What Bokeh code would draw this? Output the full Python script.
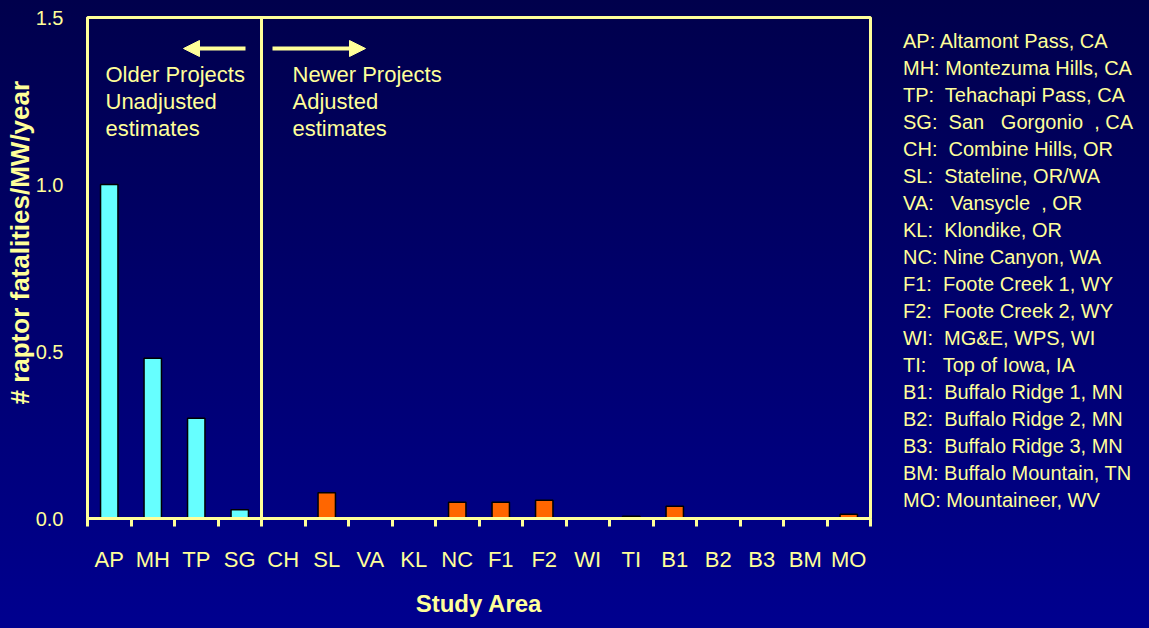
from bokeh.plotting import figure
from bokeh.models import (Range1d, LinearAxis, FixedTicker, Label, Span, Legend, LegendItem,
                          Arrow, NormalHead, ColumnDataSource, NumeralTickFormatter)
from bokeh.transform import factor_cmap
from bokeh.embed import file_html
from bokeh.resources import INLINE

# ---------------- data ----------------
sites = ["AP", "MH", "TP", "SG", "CH", "SL", "VA", "KL", "NC",
         "F1", "F2", "WI", "TI", "B1", "B2", "B3", "BM", "MO"]
fatalities = [1.0, 0.48, 0.30, 0.026, 0.0, 0.077, 0.0, 0.0, 0.049,
              0.049, 0.055, 0.0, 0.007, 0.037, 0.0, 0.0, 0.0, 0.013]
project_age = ["Older"] * 4 + ["Newer"] * 14
y_ticks = [0.0, 0.5, 1.0, 1.5]
legend_lines = [
    "AP: Altamont Pass, CA",
    "MH: Montezuma Hills, CA",
    "TP:  Tehachapi Pass, CA",
    "SG:  San   Gorgonio  , CA",
    "CH:  Combine Hills, OR",
    "SL:  Stateline, OR/WA",
    "VA:   Vansycle  , OR",
    "KL:  Klondike, OR",
    "NC: Nine Canyon, WA",
    "F1:  Foote Creek 1, WY",
    "F2:  Foote Creek 2, WY",
    "WI:  MG&E, WPS, WI",
    "TI:   Top of Iowa, IA",
    "B1:  Buffalo Ridge 1, MN",
    "B2:  Buffalo Ridge 2, MN",
    "B3:  Buffalo Ridge 3, MN",
    "BM: Buffalo Mountain, TN",
    "MO: Mountaineer, WV",
]
older_lines = ["Older Projects", "Unadjusted", "estimates"]
newer_lines = ["Newer Projects", "Adjusted", "estimates"]

# ---------------- style ----------------
YEL = "#FFFF99"
CYAN = "#66FFFF"
ORANGE = "#FF6600"
FONT = "Liberation Sans"

FL, FR, FT, FB = 87, 870, 17, 518  # frame box in page pixels

p = figure(frame_width=FR - FL, frame_height=FB - FT,
           x_range=sites, y_range=Range1d(0, 1.5),
           output_backend="svg", toolbar_location=None, x_axis_location=None,
           min_border_left=FL, min_border_right=10,
           min_border_top=FT, min_border_bottom=100)
p.background_fill_alpha = 0
p.border_fill_alpha = 0
p.outline_line_color = YEL
p.outline_line_width = 3
p.grid.visible = False

src = ColumnDataSource(dict(site=sites, val=fatalities, age=project_age))
p.vbar(x="site", top="val", width=0.4, source=src,
       fill_color=factor_cmap("age", [CYAN, ORANGE], ["Older", "Newer"]),
       line_color="black", line_width=1.5)

# y axis
ya = p.yaxis[0]
ya.ticker = FixedTicker(ticks=y_ticks, minor_ticks=[])
ya.formatter = NumeralTickFormatter(format="0.0")
ya.axis_line_color = YEL
ya.axis_line_width = 3
ya.major_tick_in = 0
ya.major_tick_out = 0
ya.minor_tick_line_color = None
ya.major_label_text_color = YEL
ya.major_label_text_font = FONT
ya.major_label_text_font_size = "20px"
ya.major_label_standoff = 24
# leading no-break spaces lift the label so it sits where the original does
ya.axis_label = "\u00a0" * 7 + "# raptor fatalities/MW/year"
ya.axis_label_text_color = YEL
ya.axis_label_text_font = FONT
ya.axis_label_text_font_style = "bold"
ya.axis_label_text_font_size = "26px"
ya.axis_label_standoff = -2

# x axis: labels at category centres, ticks at category boundaries
# (synthetic coordinates of the categorical range: centres at i+0.5)
centres = [i + 0.5 for i in range(len(sites))]
bounds = list(range(len(sites) + 1))
xa = LinearAxis(ticker=FixedTicker(ticks=centres, minor_ticks=bounds),
                major_label_overrides={c: s for c, s in zip(centres, sites)})
xa.axis_line_color = YEL
xa.axis_line_width = 3
xa.major_tick_in = 0
xa.major_tick_out = 0
xa.minor_tick_in = 0
xa.minor_tick_out = 8
xa.minor_tick_line_color = YEL
xa.minor_tick_line_width = 3
xa.major_label_text_color = YEL
xa.major_label_text_font = FONT
xa.major_label_text_font_size = "22px"
xa.major_label_standoff = 20
xa.axis_label = "Study Area"
xa.axis_label_text_color = YEL
xa.axis_label_text_font = FONT
xa.axis_label_text_font_style = "bold"
xa.axis_label_text_font_size = "24px"
xa.axis_label_standoff = 15
p.add_layout(xa, "below")

# helpers converting reference-picture pixel positions to data units
def fx(px):
    return (px - FL) / ((FR - FL) / len(sites))

def fy(py):
    return (FB - py) / ((FB - FT) / 1.5)

# divider between older and newer projects
p.add_layout(Span(location=4, dimension="height", line_color=YEL, line_width=3))

# arrows
p.add_layout(Arrow(x_start=fx(245), y_start=fy(48), x_end=fx(183), y_end=fy(48),
                   line_color=YEL, line_width=4,
                   end=NormalHead(size=16, fill_color=YEL, line_color=YEL)))
p.add_layout(Arrow(x_start=fx(272), y_start=fy(48), x_end=fx(365), y_end=fy(48),
                   line_color=YEL, line_width=4,
                   end=NormalHead(size=16, fill_color=YEL, line_color=YEL)))

def add_text(txt, x, y, size):
    p.add_layout(Label(x=x, y=y, text=txt, text_color=YEL,
                       text_font=FONT, text_font_size=size,
                       text_align="left", text_baseline="middle"))

for i, t in enumerate(older_lines):
    add_text(t, fx(105), fy(73.5 + 27 * i), "22px")
for i, t in enumerate(newer_lines):
    add_text(t, fx(292), fy(73.5 + 27 * i), "22px")

# site key, drawn as a glyph-less legend in the right panel
dummy = p.scatter(x=[], y=[], size=0, fill_alpha=0, line_alpha=0)
key = Legend(items=[LegendItem(label=t, renderers=[dummy]) for t in legend_lines],
             location="top_left", orientation="vertical",
             glyph_width=0, glyph_height=20, label_height=20, label_standoff=20,
             spacing=4, padding=13, margin=0,
             label_text_color=YEL, label_text_font=FONT, label_text_font_size="20px",
             background_fill_alpha=0, border_line_alpha=0,
             inactive_fill_alpha=0)
p.add_layout(key, "right")

html = file_html(p, INLINE)
css = ("<style>html{height:100%;background:linear-gradient(to bottom,#00004c,#00008f);}"
       "body{background:transparent;}</style>")
html = html.replace("</head>", css + "</head>", 1)
open("out.html", "w").write(html)
